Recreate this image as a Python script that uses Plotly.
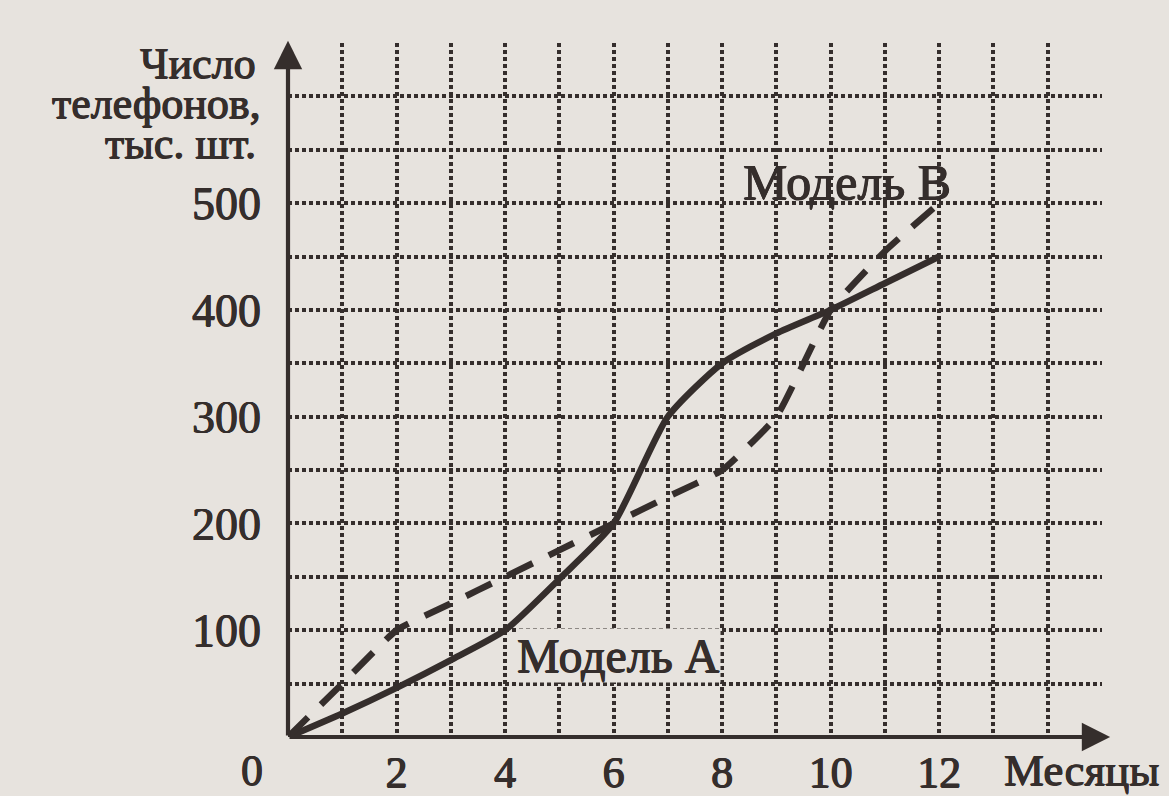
import plotly.graph_objects as go

# ---- data ----
months = [0, 1, 2, 3, 4, 5, 6, 7, 8, 9, 10, 11, 12]
model_a = [0, 22, 46, 72, 100, 148, 200, 300, 350, 378, 400, 425, 450]
model_b = [0, 50, 100, 125, 150, 175, 200, 225, 250, 300, 400, 455, 500]

x_tick_vals = list(range(0, 16))
x_tick_text = ["" if (v % 2 or v == 0 or v > 12) else str(v) for v in x_tick_vals]
y_tick_vals = list(range(0, 651, 50))
y_tick_text = [str(v) if (v % 100 == 0 and 100 <= v <= 500) else "" for v in y_tick_vals]

title_lines = ["Число", "телефонов,", "тыс. шт."]
x_title = "Месяцы"
label_a = "Модель А"
label_b = "Модель В"

# ---- style ----
INK = "#352e2c"
PAPER = "#e7e3de"
FONT = "Liberation Serif"
SHADOW = "0.6px 0 0 #352e2c, -0.6px 0 0 #352e2c, 0 0.5px 0 #352e2c"


def tfont(size):
    return dict(family=FONT, size=size, color=INK, shadow=SHADOW)


fig = go.Figure()

fig.add_trace(go.Scatter(
    x=months, y=model_a, mode="lines", name=label_a,
    line=dict(color=INK, width=6.5, shape="spline", smoothing=0.6),
    cliponaxis=False, showlegend=False,
))
fig.add_trace(go.Scatter(
    x=months, y=model_b, mode="lines", name=label_b,
    line=dict(color=INK, width=6.5, dash="28px,18px", shape="spline", smoothing=0.4),
    cliponaxis=False, showlegend=False,
))

grid = dict(showgrid=True, gridcolor=INK, gridwidth=3.5, griddash="3.5px,3.5px")

fig.update_xaxes(
    range=[0, 15], tickmode="array", tickvals=x_tick_vals, ticktext=x_tick_text,
    zeroline=False, showline=False, ticks="", ticklabelstandoff=5, automargin=False,
    tickfont=tfont(44), fixedrange=True, **grid,
)
fig.update_yaxes(
    range=[0, 650], tickmode="array", tickvals=y_tick_vals, ticktext=y_tick_text,
    zeroline=False, showline=False, ticks="", ticklabelstandoff=26, automargin=False,
    tickfont=tfont(46), fixedrange=True, **grid,
)

# axis arrows
fig.add_annotation(x=15.15, y=0, ax=0, ay=0, xref="x", yref="y", axref="x", ayref="y",
                   text="", showarrow=True, arrowhead=2, arrowsize=1.35, arrowwidth=4.2,
                   arrowcolor=INK, standoff=0)
fig.add_annotation(x=0, y=652, ax=0, ay=0, xref="x", yref="y", axref="x", ayref="y",
                   text="", showarrow=True, arrowhead=2, arrowsize=1.35, arrowwidth=4.2,
                   arrowcolor=INK, standoff=0)

# "0" label at origin
fig.add_annotation(x=0, y=0, xref="x", yref="y", text="0", showarrow=False,
                   xshift=-36, yshift=-33, font=tfont(44))
# x-axis title
fig.add_annotation(x=13.15, y=0, xref="x", yref="y", text=x_title, showarrow=False,
                   xanchor="left", yshift=-33, font=tfont(45))
# y-axis title, one annotation per line for tight leading
for i, line in enumerate(title_lines):
    fig.add_annotation(x=0, y=650, xref="x", yref="y", text=line,
                       showarrow=False, xanchor="right", yanchor="middle",
                       xshift=-30 if i != 1 else -25, yshift=-20 - 40 * i,
                       font=tfont(44))
# series labels
fig.add_annotation(x=4.2, y=76, xref="x", yref="y", text=label_a, showarrow=False,
                   xanchor="left", yanchor="middle", bgcolor=PAPER, borderpad=0,
                   font=tfont(48))
fig.add_annotation(x=8.35, y=520, xref="x", yref="y", text=label_b, showarrow=False,
                   xanchor="left", yanchor="middle",
                   font=tfont(50))

fig.update_layout(
    width=1169, height=796,
    margin=dict(l=288, r=67, t=43, b=59, autoexpand=False),
    paper_bgcolor=PAPER, plot_bgcolor=PAPER,
    showlegend=False,
)

fig.write_html(
    "out.html",
    config={"displayModeBar": False},
    post_script="document.body.style.margin='0';document.body.style.overflow='hidden';"
                "document.documentElement.style.background='%s';" % PAPER,
)
